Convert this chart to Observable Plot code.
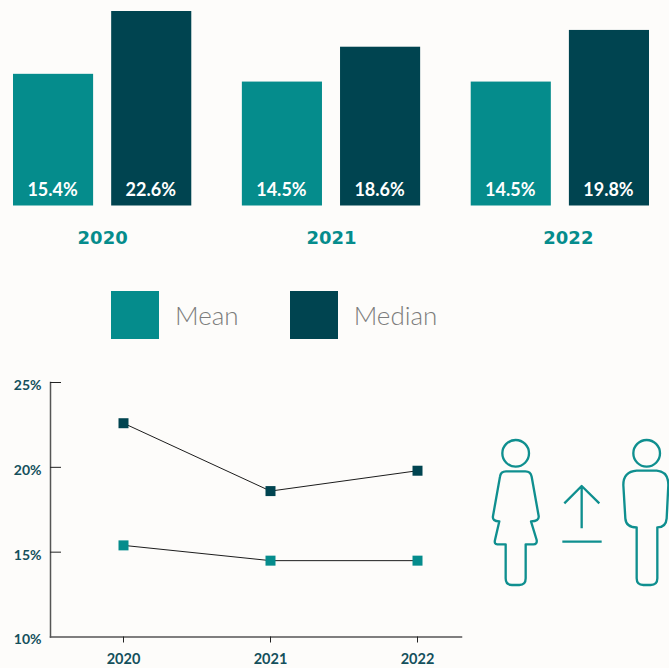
<!DOCTYPE html>
<html><head><meta charset="utf-8">
<script src="https://cdn.jsdelivr.net/npm/d3@7"></script>
<script src="https://cdn.jsdelivr.net/npm/@observablehq/plot@0.6"></script>
<style>
html,body{margin:0;padding:0;background:#fdfcfa;width:669px;height:668px;overflow:hidden}
#page{position:relative;width:669px;height:668px}
#page>*{position:absolute}
</style></head><body><div id="page"></div>
<script>
const years = ["2020","2021","2022"];
const series = ["Mean","Median"];
const meanValues = [15.4,14.5,14.5];
const medianValues = [22.6,18.6,19.8];
// Bar lengths as measured from the reference's bars; they differ slightly from the printed labels
// (the 2022 median bar in particular is drawn taller than its 19.8% label).
const meanBarLengths = [15.3,14.4,14.4];
const medianBarLengths = [22.6,18.45,20.4];
const colors = ["#058c8c","#004450"];
const yTicks = [10,15,20,25];

const bars = years.flatMap((year,i)=>[
  {year,series:"Mean",value:meanValues[i],length:meanBarLengths[i]},
  {year,series:"Median",value:medianValues[i],length:medianBarLengths[i]}
]);
const page = document.getElementById("page");
const place = (el,l,t)=>{el.style.left=l+"px";el.style.top=t+"px";page.appendChild(el);return el;};

const barChart = Plot.plot({
  width:669,height:250,marginTop:11,marginBottom:44.5,marginLeft:13,marginRight:20,
  style:{background:"transparent",overflow:"visible"},
  fx:{domain:years,paddingInner:0.221,paddingOuter:0,round:false,label:null,axis:null},
  x:{domain:series,paddingInner:0.184,paddingOuter:0,round:false,axis:null},
  y:{domain:[0,22.6],axis:null},
  color:{domain:series,range:colors},
  marks:[
    Plot.barY(bars,{fx:"year",x:"series",y:"length",fill:"series"}),
    Plot.text(bars,{fx:"year",x:"series",y:0,dy:-16,dx:-1,text:d=>d.value.toFixed(1)+"%",fill:"white",
      fontFamily:"Lato",fontWeight:700,fontSize:18}),
    Plot.axisFx({anchor:"bottom",tickSize:0,tickPadding:25,label:null,color:"#058c8c",
      fontFamily:"DejaVu Sans",fontWeight:700,fontSize:18})
  ]
});
// The reference sets its 2022 heading a little right of the bar pair's centre.
const fxLabels = barChart.querySelectorAll('[aria-label="fx-axis tick label"] text');
if (fxLabels.length) fxLabels[fxLabels.length-1].setAttribute("dx","8");
place(barChart,0,0);

const legend = Plot.legend({color:{domain:series,range:colors},swatchSize:48,
  style:{fontFamily:"Lato",fontWeight:300,fontSize:"26px",color:"#7c7c7c",background:"transparent"}});
place(legend,111,291);
const legendItems = legend.querySelectorAll("span");
legendItems.forEach(s=>{const g=s.querySelector("svg"); if(g) g.style.marginRight="16px";});
if (legendItems.length) legendItems[0].style.marginRight = "51px";

const lineChart = Plot.plot({
  width:469,height:296,marginTop:10,marginBottom:31.5,marginLeft:50,marginRight:8,
  style:{background:"transparent",overflow:"visible"},
  x:{type:"point",domain:years,range:[123,417],padding:0,axis:null},
  y:{domain:[10,25],axis:null},
  color:{domain:series,range:colors},
  marks:[
    Plot.frame({anchor:"left",stroke:"#555",strokeWidth:1.5}),
    Plot.frame({anchor:"bottom",stroke:"#555",strokeWidth:1.5}),
    Plot.line(bars,{x:"year",y:"value",z:"series",stroke:"#1c1c1c",strokeWidth:1}),
    Plot.dot(bars,{x:"year",y:"value",symbol:"square",r:5.64,fill:"series",stroke:"none"}),
    Plot.axisY({ticks:yTicks.slice(1),anchor:"left",tickSize:-11,text:null,label:null,stroke:"#222",strokeOpacity:1}),
    Plot.axisY({ticks:yTicks,anchor:"left",tickSize:0,tickPadding:9,dy:3,label:null,tickFormat:d=>d+"%",
      color:"#14505c",fontFamily:"Lato",fontWeight:700,fontSize:14}),
    Plot.axisX({anchor:"bottom",tickSize:6,tickPadding:11,label:null,stroke:"#222",strokeOpacity:1,
      color:"#14505c",fontFamily:"Lato",fontWeight:700,fontSize:14.5})
  ]
});
place(lineChart,0,372);

const icon = document.createElementNS("http://www.w3.org/2000/svg","svg");
icon.setAttribute("width",189);icon.setAttribute("height",165);icon.setAttribute("viewBox","0 0 567 495");
icon.innerHTML=`<g fill="none" stroke="#0f8f8f" stroke-width="7" stroke-linejoin="round">
<circle cx="107" cy="70" r="40"/>
<path d="M78,124H136Q152,124 155,140L176,258Q178,274 153,274L170,330Q172,343 160,343H137V445Q137,465 118,465H96Q77,465 77,445V343H52Q42,343 45,330L58,274Q36,274 39,258L60,140Q62,124 78,124Z"/>
<circle cx="500" cy="70" r="40"/>
<path d="M470,122H530Q565,125 565,165L560,265Q558,292 532,292V445Q532,465 512,465H490Q470,465 470,445V292Q438,292 436,265L430,165Q430,125 470,122Z"/>
<path d="M305,295V168M253,220L305,168L358,220M247,335H365"/></g>`;
place(icon,480,430);
</script>
</body></html>
